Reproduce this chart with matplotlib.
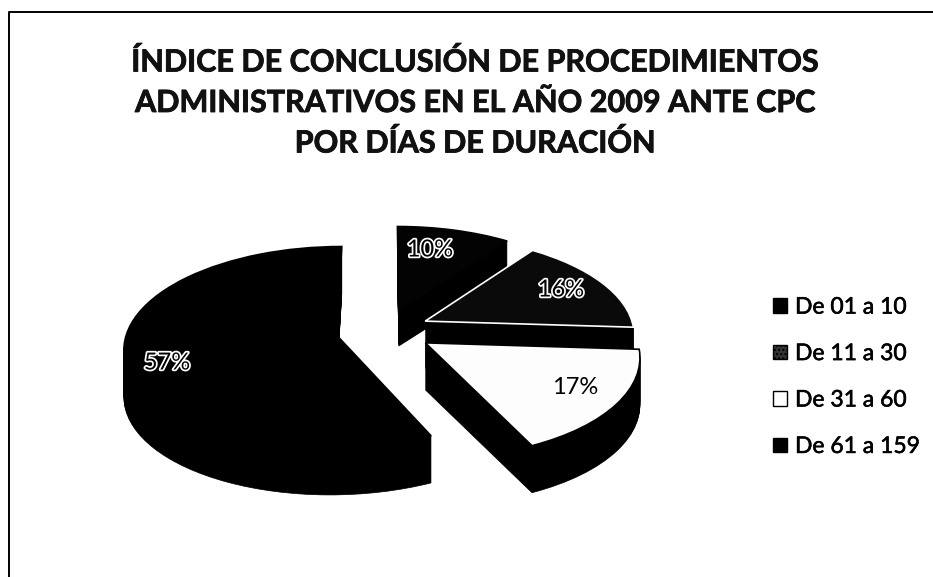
import matplotlib
matplotlib.use('Agg')
import matplotlib.pyplot as plt
import matplotlib.patheffects as pe
from matplotlib.patches import PathPatch, Patch
from matplotlib.path import Path

plt.rcParams['font.family'] = ['Lato', 'DejaVu Sans']

titulo = ['ÍNDICE DE CONCLUSIÓN DE PROCEDIMIENTOS',
          'ADMINISTRATIVOS EN EL AÑO 2009 ANTE CPC',
          'POR DÍAS DE DURACIÓN']
categorias = ['De 01 a 10', 'De 11 a 30', 'De 31 a 60', 'De 61 a 159']
valores = [10, 16, 17, 57]
colores = ['#030303', '#0a0a0a', '#fdfdfd', '#000000']
separacion = [0.22, 0.215, 0.23, 0.236]
profundidad = [36, 47, 47, 47]
pos_etiquetas = [(430, 250), (561, 290), (575, 387), (167, 363)]

fig = plt.figure(figsize=(9.33, 5.77), dpi=100)

# la torta sale de pie() en un eje auxiliar y luego se proyecta a pixeles
aux = fig.add_axes([0, 0, 0.01, 0.01])
wedges, _, auto = aux.pie(valores, explode=separacion, startangle=90, counterclock=False,
                          autopct='%d%%')
caminos = [w.get_path() for w in wedges]
textos = [t.get_text() for t in auto]
aux.remove()

ax = fig.add_axes([0, 0, 1, 1])
ax.set_xlim(0, 933)
ax.set_ylim(577, 0)
ax.axis('off')

CX, CY, A, B, K = 385, 330, 209, 98, 0.12


def proyectar(path, dy=0):
    verts = path.vertices
    w = 1 + K * verts[:, 1]
    salida = verts.copy()
    salida[:, 0] = CX + A * verts[:, 0] / w
    salida[:, 1] = CY - B * verts[:, 1] / w + dy
    return Path(salida, path.codes)


# orden de atras hacia adelante
for i in [0, 1, 3, 2]:
    for d in range(profundidad[i], 0, -1):
        ax.add_patch(PathPatch(proyectar(caminos[i], d), fc='black', ec='black', lw=0.5))
    borde = {0: '#030303', 1: 'white', 2: 'black', 3: 'black'}[i]
    ax.add_patch(PathPatch(proyectar(caminos[i]), fc=colores[i], ec=borde, lw=1.2))

for i, txt in enumerate(textos):
    t = ax.text(pos_etiquetas[i][0], pos_etiquetas[i][1], txt, ha='center', va='center',
                fontsize=17, color='black')
    if i != 2:
        t.set_path_effects([pe.withStroke(linewidth=2.5, foreground='white')])

# marco del grafico
ax.plot([9, 9, 933], [577, 12, 12], color='black', lw=1.4)

for y, linea in zip([62, 103, 143], titulo):
    ax.text(475, y, linea, ha='center', va='center', fontsize=22, fontweight='bold', color='#111111',
            path_effects=[pe.withStroke(linewidth=0.6, foreground='#111111')])

manijas = [Patch(fc='black', ec='black'), Patch(fc='#333333', ec='black', hatch='....'),
           Patch(fc='white', ec='black'), Patch(fc='black', ec='black')]
ley = ax.legend(manijas, categorias, loc='center left', bbox_to_anchor=(0.8285, 0.347), frameon=False,
                fontsize=16.5, handlelength=0.61, handleheight=0.61, handletextpad=0.35, labelspacing=1.11,
                borderpad=0, borderaxespad=0)
for t in ley.get_texts():
    t.set_path_effects([pe.withStroke(linewidth=0.4, foreground='black')])

fig.savefig('out.png', dpi=100)
